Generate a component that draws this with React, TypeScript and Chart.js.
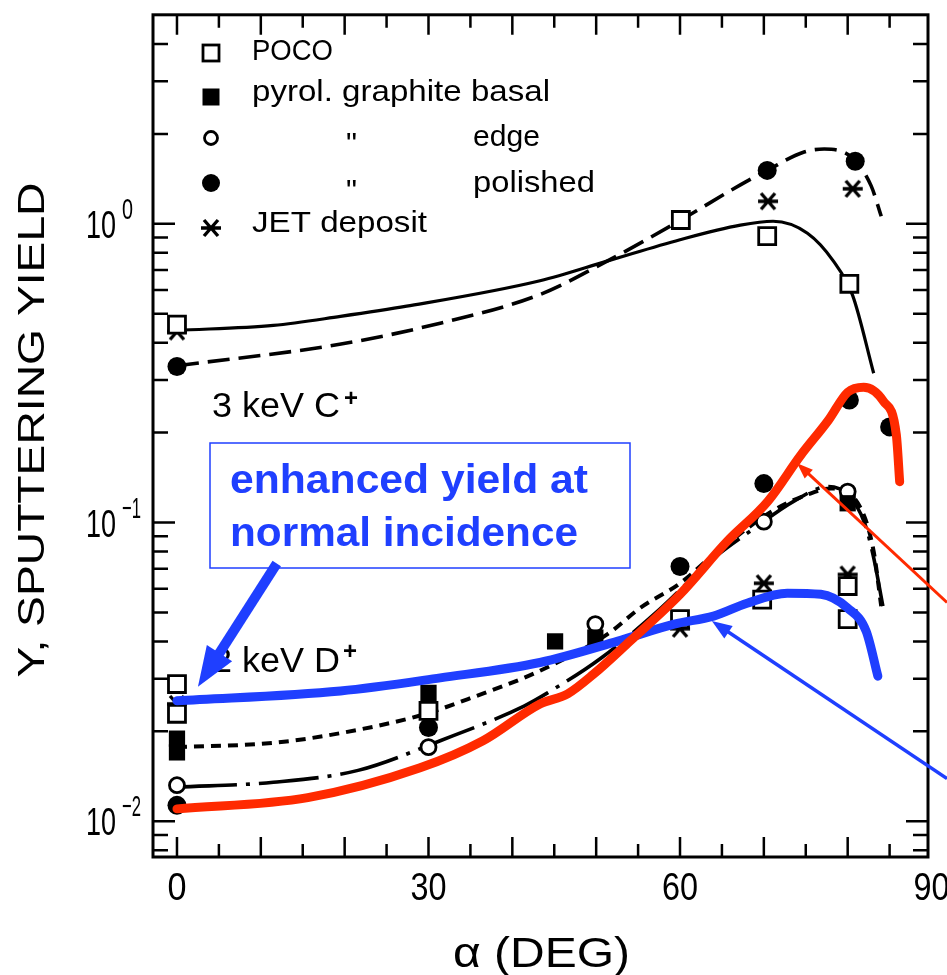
import React, { useEffect, useRef } from 'react';
import { Chart, registerables } from 'chart.js';

Chart.register(...registerables);

// ---------- axes ----------
const X_MIN = -2.86;
const X_MAX = 89.58;
const Y_MIN = 0.00759;
const Y_MAX = 5.01;
const xTickValues = [0, 30, 60, 90];
const xTickLabels = ['0', '30', '60', '90'];
const xMinorStep = 5;
const yDecades = [0, -1, -2];
const yExpLabels = ['0', '\u22121', '\u22122'];

// ---------- 3 keV C+ : measured points ----------
const cPocoX = [0, 60.1, 70.4, 80.2];
const cPocoY = [0.46, 1.03, 0.91, 0.63];
const cPolishedX = [0, 70.4, 80.9];
const cPolishedY = [0.333, 1.51, 1.62];
const cJetX = [0, 70.5, 80.6];
const cJetY = [0.436, 1.19, 1.31];

// ---------- 3 keV C+ : fitted curves ----------
const cSolidX = [0, 11.5, 19.5, 27.4, 43.3, 51.3, 60, 67.2, 71.1, 75.2, 78.3, 80.6, 83.1];
const cSolidY = [0.44, 0.457, 0.49, 0.53, 0.645, 0.75, 0.885, 0.99, 1.02, 0.93, 0.75, 0.575, 0.316];
const cDashX = [0, 19.4, 31.4, 43.3, 51.3, 60.1, 67.2, 70.4, 74.8, 77.2, 80.6, 82.8, 84];
const cDashY = [0.335, 0.395, 0.465, 0.58, 0.75, 1.03, 1.35, 1.51, 1.74, 1.78, 1.66, 1.34, 1.06];

// ---------- 2 keV D+ : measured points ----------
const dPocoX = [0, 0, 30, 60, 69.8, 80, 80];
const dPocoY = [0.0288, 0.0229, 0.0234, 0.0475, 0.0552, 0.0613, 0.0475];
const dBasalX = [0, 0, 30, 45.1, 49.9, 80];
const dBasalY = [0.0189, 0.017, 0.0269, 0.04, 0.0412, 0.116];
const dEdgeX = [0, 30, 49.9, 70, 80];
const dEdgeY = [0.0132, 0.0177, 0.0457, 0.1007, 0.127];
const dPolishedX = [0, 30, 60, 70, 80.2, 85];
const dPolishedY = [0.0113, 0.0206, 0.0713, 0.135, 0.257, 0.209];
const dJetX = [0, 60, 70, 80];
const dJetY = [0.0247, 0.0441, 0.0626, 0.067];

// ---------- 2 keV D+ : fitted curves ----------
const dDotX = [0, 11.5, 19.4, 29, 35.3, 43.3, 51.4, 55.3, 60, 64, 71.2, 75.2, 78, 81.6, 83.1, 84];
const dDotY = [0.0177, 0.0183, 0.0197, 0.0226, 0.026, 0.0319, 0.0424, 0.0519, 0.0626, 0.078, 0.11, 0.124, 0.13, 0.111, 0.08, 0.0525];
const dDashDotX = [0, 11.5, 21.6, 31.4, 41.4, 44.2, 50.6, 57.5, 64, 68.8, 73.6, 77.7, 80, 82, 83.1, 84.2];
const dDashDotY = [0.013, 0.0135, 0.0148, 0.0186, 0.0243, 0.0269, 0.0352, 0.051, 0.0759, 0.0954, 0.118, 0.132, 0.124, 0.1, 0.0763, 0.0525];

// ---------- overlay curves ----------
const redX = [0, 15.6, 29, 36.5, 43.3, 46.6, 49.7, 54, 60, 65.6, 70.5, 74.4, 77.7, 80, 81.9, 84.3, 85.8, 86.2];
const redY = [0.011, 0.012, 0.0151, 0.0186, 0.0247, 0.0267, 0.0311, 0.04, 0.0575, 0.0864, 0.118, 0.168, 0.22, 0.273, 0.284, 0.254, 0.197, 0.137];
const blueX = [0, 19.5, 31.4, 43.3, 52.5, 59.3, 64, 68, 72.8, 76.8, 80, 82.2, 83.6];
const blueY = [0.0253, 0.0273, 0.0302, 0.034, 0.04, 0.0457, 0.0486, 0.0537, 0.058, 0.0575, 0.0517, 0.0433, 0.0306];

// ---------- legend / annotation texts ----------
const legendLabels = ['POCO', 'pyrol. graphite basal', 'edge', 'polished', 'JET deposit'];
const labelC = '3 keV C';
const labelD = '2 keV D';
const boxLines = ['enhanced yield at', 'normal incidence'];
const xTitle = '\u03b1 (DEG)';
const yTitle = 'Y, SPUTTERING YIELD';

const SANS = '"Liberation Sans", Arial, sans-serif';
const RED = '#ff2a00';
const BLUE = '#1f3fff';

const pts = (xs: number[], ys: number[]) => xs.map((x, i) => ({ x, y: ys[i] }));

function makeStar(): HTMLCanvasElement {
  const c = document.createElement('canvas');
  c.width = 24;
  c.height = 20;
  const g = c.getContext('2d')!;
  g.strokeStyle = '#000';
  g.lineWidth = 3.4;
  g.beginPath();
  g.moveTo(2, 10); g.lineTo(22, 10);
  g.moveTo(5, 2); g.lineTo(19, 18);
  g.moveTo(19, 2); g.lineTo(5, 18);
  g.stroke();
  return c;
}

function drawText(ctx: CanvasRenderingContext2D, s: string, x: number, y: number, size: number,
  width: number | null, align: CanvasTextAlign = 'left', weight = 'normal', color = '#000') {
  ctx.save();
  ctx.font = `${weight} ${size}px ${SANS}`;
  ctx.fillStyle = color;
  ctx.textBaseline = 'alphabetic';
  ctx.textAlign = align;
  const w = ctx.measureText(s).width;
  const sx = width ? width / w : 1;
  ctx.translate(x, y);
  ctx.scale(sx, 1);
  ctx.fillText(s, 0, 0);
  ctx.restore();
}

function arrow(ctx: CanvasRenderingContext2D, x1: number, y1: number, x2: number, y2: number,
  lw: number, hl: number, hw: number, color: string) {
  const a = Math.atan2(y2 - y1, x2 - x1);
  const c = Math.cos(a), s = Math.sin(a);
  const bx = x2 - hl * c, by = y2 - hl * s;
  ctx.save();
  ctx.strokeStyle = color;
  ctx.fillStyle = color;
  ctx.lineWidth = lw;
  ctx.lineCap = 'butt';
  ctx.beginPath();
  ctx.moveTo(x1, y1);
  ctx.lineTo(bx + c * 2, by + s * 2);
  ctx.stroke();
  ctx.beginPath();
  ctx.moveTo(x2, y2);
  ctx.lineTo(bx - s * hw / 2, by + c * hw / 2);
  ctx.lineTo(bx + s * hw / 2, by - c * hw / 2);
  ctx.closePath();
  ctx.fill();
  ctx.restore();
}

function marker(ctx: CanvasRenderingContext2D, kind: string, x: number, y: number, star: HTMLCanvasElement) {
  ctx.save();
  ctx.strokeStyle = '#000';
  ctx.fillStyle = '#000';
  ctx.lineWidth = 2.8;
  if (kind === 'osq') { ctx.fillStyle = '#fff'; ctx.fillRect(x - 8, y - 8, 16, 16); ctx.strokeRect(x - 8, y - 8, 16, 16); }
  if (kind === 'fsq') { ctx.fillRect(x - 8.5, y - 8.5, 17, 17); }
  if (kind === 'oci') { ctx.beginPath(); ctx.arc(x, y, 6.5, 0, Math.PI * 2); ctx.fillStyle = '#fff'; ctx.fill(); ctx.stroke(); }
  if (kind === 'fci') { ctx.beginPath(); ctx.arc(x, y, 9, 0, Math.PI * 2); ctx.fill(); }
  if (kind === 'star') { ctx.drawImage(star, x - star.width / 2, y - star.height / 2); }
  ctx.restore();
}

export default function App() {
  const ref = useRef<HTMLCanvasElement | null>(null);

  useEffect(() => {
    document.body.style.margin = '0';
    const canvas = ref.current!;
    const star = makeStar();

    const curve = (xs: number[], ys: number[], color: string, width: number, dash: number[], order: number, cap: CanvasLineCap = 'butt') => ({
      type: 'line' as const,
      data: pts(xs, ys),
      borderColor: color,
      borderWidth: width,
      borderDash: dash,
      borderCapStyle: cap,
      borderJoinStyle: 'round' as CanvasLineJoin,
      pointRadius: 0,
      fill: false,
      showLine: true,
      cubicInterpolationMode: 'monotone' as const,
      order,
      clip: false as const,
    });

    const marks = (xs: number[], ys: number[], style: any, radius: number, filled: boolean, order = 3) => ({
      type: 'scatter' as const,
      data: pts(xs, ys),
      pointStyle: style,
      pointRadius: radius,
      pointBackgroundColor: filled ? '#000' : '#fff',
      pointBorderColor: '#000',
      pointBorderWidth: filled ? 0 : 2.8,
      showLine: false,
      order,
      clip: false as const,
    });

    const decor = {
      id: 'decor',
      afterDraw(chart: any) {
        const ctx: CanvasRenderingContext2D = chart.ctx;
        const xs = chart.scales.x;
        const ys = chart.scales.y;
        const a = chart.chartArea;
        const X = (v: number) => xs.getPixelForValue(v);
        const Y = (v: number) => ys.getPixelForValue(v);

        ctx.save();
        // frame
        ctx.strokeStyle = '#000';
        ctx.lineWidth = 3;
        ctx.strokeRect(a.left, a.top, a.right - a.left, a.bottom - a.top);
        // x ticks (bottom + top, inward)
        ctx.lineWidth = 2.5;
        ctx.beginPath();
        for (let v = 0; v <= X_MAX; v += xMinorStep) {
          const px = X(v);
          const len = v % 10 === 0 ? 20 : 13;
          ctx.moveTo(px, a.bottom); ctx.lineTo(px, a.bottom - len);
          ctx.moveTo(px, a.top); ctx.lineTo(px, a.top + len);
        }
        // y ticks (left + right, inward)
        for (let e = -3; e <= 0; e++) {
          for (let m = 1; m <= 9; m++) {
            const v = m * Math.pow(10, e);
            if (v < Y_MIN || v > Y_MAX * 0.98) continue;
            const py = Y(v);
            const len = m === 1 ? 22 : 15;
            ctx.moveTo(a.left, py); ctx.lineTo(a.left + len, py);
            ctx.moveTo(a.right, py); ctx.lineTo(a.right - len, py);
          }
        }
        ctx.stroke();

        // x tick labels
        xTickValues.forEach((v, i) => {
          const s = xTickLabels[i];
          drawText(ctx, s, X(v), 900, 39, s.length === 1 ? 19 : 36, 'center');
        });
        // y tick labels 10^n
        yDecades.forEach((e, i) => {
          const py = Y(Math.pow(10, e));
          drawText(ctx, '10', a.left - 37, py + 14, 38, 30, 'right');
          const sup = yExpLabels[i];
          drawText(ctx, sup, a.left - 31, py - 5, 30, sup.length === 1 ? 11 : 19, 'left');
        });

        // axis titles
        drawText(ctx, xTitle, 453, 967, 42, 177, 'left');
        ctx.save();
        ctx.translate(44, 430);
        ctx.rotate(-Math.PI / 2);
        drawText(ctx, yTitle, 0, 0, 37, 495, 'center');
        ctx.restore();

        // legend
        const kinds = ['osq', 'fsq', 'oci', 'fci', 'star'];
        const rowY = [53, 97, 138, 183, 228];
        const base = [60, 101, 146, 192, 232];
        const tx = [252, 252, 473, 473, 252];
        const tw = [81, 298, 67, 122, 175];
        kinds.forEach((k, i) => {
          marker(ctx, k, 211, rowY[i], star);
          drawText(ctx, legendLabels[i], tx[i], base[i], 29, tw[i], 'left');
        });
        drawText(ctx, '"', 346, 153, 29, 11, 'left');
        drawText(ctx, '"', 346, 200, 29, 11, 'left');

        // series labels
        drawText(ctx, labelC, 212, 417, 35, 128, 'left');
        drawText(ctx, '+', 344, 406, 24, 14, 'left', 'bold');
        drawText(ctx, labelD, 212, 672, 35, 128, 'left');
        drawText(ctx, '+', 343, 659, 24, 14, 'left', 'bold');

        // blue box
        ctx.strokeStyle = BLUE;
        ctx.lineWidth = 1.5;
        ctx.strokeRect(210, 443, 420, 125);
        drawText(ctx, boxLines[0], 230, 493, 40, 358, 'left', 'bold', BLUE);
        drawText(ctx, boxLines[1], 230, 546, 40, 348, 'left', 'bold', BLUE);

        // arrows (anchored in data coordinates)
        arrow(ctx, X(11.9), Y(0.0729), X(2.5), Y(0.0282), 10, 40, 30, BLUE);
        arrow(ctx, X(91.85), Y(0.054), X(73.96), Y(0.158), 3, 16, 12, RED);
        arrow(ctx, X(91.85), Y(0.0139), X(63.8), Y(0.0468), 3.5, 20, 15, BLUE);
        ctx.restore();
      },
    };

    const chart = new Chart(canvas, {
      type: 'scatter',
      data: {
        datasets: [
          curve(redX, redY, RED, 9, [], 0, 'round'),
          curve(blueX, blueY, BLUE, 9, [], 0, 'round'),
          curve(cSolidX, cSolidY, '#000', 3.2, [], 5),
          curve(cDashX, cDashY, '#000', 3.6, [22, 9], 5),
          curve(dDotX, dDotY, '#000', 4, [10, 7], 5),
          curve(dDashDotX, dDashDotY, '#000', 3.6, [60, 9, 4, 9], 5),
          marks(cPocoX, cPocoY, 'rect', 12, false),
          marks(cPolishedX, cPolishedY, 'circle', 9.5, true),
          marks(cJetX, cJetY, star, 8, true),
          marks(dPocoX, dPocoY, 'rect', 12, false),
          marks(dBasalX, dBasalY, 'rect', 11.5, true),
          marks(dEdgeX, dEdgeY, 'circle', 7.5, false),
          marks(dPolishedX, dPolishedY, 'circle', 9.5, true),
          marks(dJetX, dJetY, star, 8, true),
        ] as any,
      },
      options: {
        responsive: false,
        maintainAspectRatio: false,
        animation: false,
        events: [],
        layout: { padding: { left: 153, top: 11, right: 19, bottom: 118 } },
        plugins: { legend: { display: false }, tooltip: { enabled: false } },
        scales: {
          x: { type: 'linear', min: X_MIN, max: X_MAX, display: false },
          y: { type: 'logarithmic', min: Y_MIN, max: Y_MAX, display: false },
        },
      },
      plugins: [decor],
    });
    return () => chart.destroy();
  }, []);

  return (
    <div style={{ width: 947, height: 975, background: '#fff' }}>
      <canvas ref={ref} width={947} height={975} style={{ display: 'block' }} />
    </div>
  );
}
